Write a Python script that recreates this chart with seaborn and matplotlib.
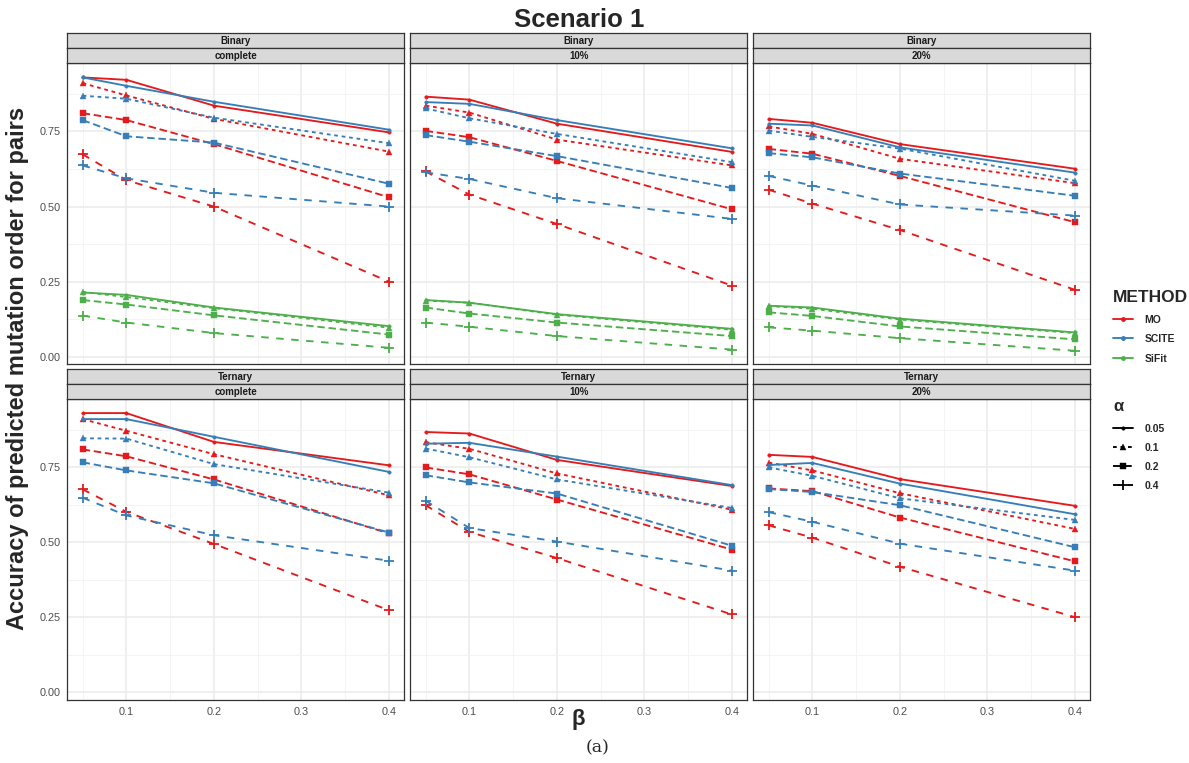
import matplotlib
matplotlib.use("Agg")
import matplotlib.pyplot as plt
from matplotlib.lines import Line2D
import pandas as pd
import seaborn as sns

sns.set_style("white")
plt.rcParams["font.family"] = ["Liberation Sans", "DejaVu Sans"]

# ---- data -------------------------------------------------------------
beta = [0.05, 0.1, 0.2, 0.4]
alphas = ["0.05", "0.1", "0.2", "0.4"]
methods = ["MO", "SCITE", "SiFit"]
encodings = ["Binary", "Ternary"]
missing_levels = ["complete", "10%", "20%"]

# each list holds one row per alpha (0.05, 0.1, 0.2, 0.4), values over beta
binary_complete_mo = [[0.930, 0.922, 0.836, 0.747],
                      [0.911, 0.870, 0.792, 0.683],
                      [0.811, 0.788, 0.708, 0.531],
                      [0.674, 0.588, 0.500, 0.250]]
binary_complete_scite = [[0.930, 0.902, 0.849, 0.756],
                         [0.869, 0.859, 0.796, 0.711],
                         [0.788, 0.734, 0.713, 0.576],
                         [0.637, 0.594, 0.546, 0.500]]
binary_complete_sifit = [[0.214, 0.206, 0.164, 0.102],
                         [0.216, 0.199, 0.162, 0.097],
                         [0.189, 0.174, 0.138, 0.074],
                         [0.137, 0.114, 0.079, 0.030]]

binary_10_mo = [[0.866, 0.856, 0.776, 0.682],
                [0.836, 0.813, 0.723, 0.637],
                [0.752, 0.731, 0.652, 0.491],
                [0.617, 0.540, 0.442, 0.237]]
binary_10_scite = [[0.848, 0.842, 0.788, 0.694],
                   [0.827, 0.794, 0.742, 0.648],
                   [0.738, 0.716, 0.668, 0.562],
                   [0.614, 0.592, 0.528, 0.459]]
binary_10_sifit = [[0.189, 0.180, 0.142, 0.093],
                   [0.187, 0.180, 0.140, 0.090],
                   [0.164, 0.144, 0.114, 0.069],
                   [0.114, 0.100, 0.069, 0.024]]

binary_20_mo = [[0.792, 0.779, 0.708, 0.626],
                [0.767, 0.742, 0.659, 0.578],
                [0.692, 0.676, 0.602, 0.448],
                [0.556, 0.510, 0.422, 0.223]]
binary_20_scite = [[0.776, 0.770, 0.697, 0.613],
                   [0.753, 0.732, 0.693, 0.586],
                   [0.678, 0.664, 0.610, 0.536],
                   [0.602, 0.570, 0.507, 0.470]]
binary_20_sifit = [[0.170, 0.164, 0.127, 0.081],
                   [0.169, 0.160, 0.124, 0.079],
                   [0.148, 0.136, 0.101, 0.058],
                   [0.098, 0.087, 0.062, 0.020]]

ternary_complete_mo = [[0.931, 0.931, 0.835, 0.757],
                       [0.911, 0.872, 0.794, 0.657],
                       [0.810, 0.787, 0.710, 0.530],
                       [0.677, 0.602, 0.495, 0.274]]
ternary_complete_scite = [[0.911, 0.911, 0.852, 0.735],
                          [0.847, 0.846, 0.761, 0.666],
                          [0.767, 0.740, 0.697, 0.533],
                          [0.649, 0.590, 0.524, 0.439]]

ternary_10_mo = [[0.868, 0.863, 0.775, 0.688],
                 [0.834, 0.812, 0.730, 0.609],
                 [0.750, 0.727, 0.643, 0.476],
                 [0.624, 0.535, 0.448, 0.260]]
ternary_10_scite = [[0.829, 0.832, 0.786, 0.691],
                    [0.813, 0.784, 0.710, 0.615],
                    [0.724, 0.700, 0.663, 0.489],
                    [0.639, 0.548, 0.503, 0.406]]

ternary_20_mo = [[0.792, 0.785, 0.711, 0.622],
                 [0.766, 0.740, 0.664, 0.545],
                 [0.680, 0.671, 0.583, 0.437],
                 [0.557, 0.516, 0.419, 0.251]]
ternary_20_scite = [[0.758, 0.765, 0.696, 0.594],
                    [0.750, 0.722, 0.647, 0.575],
                    [0.678, 0.668, 0.624, 0.484],
                    [0.601, 0.569, 0.496, 0.406]]

series = {
    ("Binary", "complete", "MO"): binary_complete_mo,
    ("Binary", "complete", "SCITE"): binary_complete_scite,
    ("Binary", "complete", "SiFit"): binary_complete_sifit,
    ("Binary", "10%", "MO"): binary_10_mo,
    ("Binary", "10%", "SCITE"): binary_10_scite,
    ("Binary", "10%", "SiFit"): binary_10_sifit,
    ("Binary", "20%", "MO"): binary_20_mo,
    ("Binary", "20%", "SCITE"): binary_20_scite,
    ("Binary", "20%", "SiFit"): binary_20_sifit,
    ("Ternary", "complete", "MO"): ternary_complete_mo,
    ("Ternary", "complete", "SCITE"): ternary_complete_scite,
    ("Ternary", "10%", "MO"): ternary_10_mo,
    ("Ternary", "10%", "SCITE"): ternary_10_scite,
    ("Ternary", "20%", "MO"): ternary_20_mo,
    ("Ternary", "20%", "SCITE"): ternary_20_scite,
}

rows = []
for (enc, miss, meth), table in series.items():
    for a, vals in zip(alphas, table):
        for b, v in zip(beta, vals):
            rows.append(dict(encoding=enc, missing=miss, METHOD=meth,
                             alpha=a, beta=b, accuracy=v))
df = pd.DataFrame(rows)

# ---- styling ----------------------------------------------------------
palette = {"MO": "#E41A1C", "SCITE": "#377EB8", "SiFit": "#4DAF4A"}
marker_map = {"0.05": "o", "0.1": "^", "0.2": "s", "0.4": "P"}
dash_map = {"0.05": "", "0.1": (2, 2), "0.2": (4, 2), "0.4": (4, 4)}
marker_size = {"o": 2.5, "^": 4.8, "s": 4.4, "+": 6.5}

W, H = 1189, 763
fig = plt.figure(figsize=(W / 100, H / 100), dpi=100)

col_left = [67.3, 410.3, 753.3]
col_width = 337.0
row_top = [63.3, 399.3]
row_bottom = [364.3, 700.0]
strip_h = 15.0
border = "#333333"


def fx(px):
    return px / W


def fy(py):
    return 1 - py / H


for r, enc in enumerate(encodings):
    for c, miss in enumerate(missing_levels):
        x0 = col_left[c]
        ax = fig.add_axes([fx(x0), fy(row_bottom[r]), col_width / W,
                           (row_bottom[r] - row_top[r]) / H])
        sub = df[(df.encoding == enc) & (df.missing == miss)]
        sns.lineplot(data=sub, x="beta", y="accuracy", hue="METHOD",
                     style="alpha", hue_order=methods, style_order=alphas,
                     palette=palette, markers=marker_map, dashes=dash_map,
                     errorbar=None, legend=False, linewidth=1.35, ax=ax,
                     zorder=3)
        for ln in ax.lines:
            col = ln.get_color()
            if ln.get_marker() == "P":
                ln.set_marker("+")
                ln.set_markeredgewidth(1.3)
            else:
                ln.set_markeredgewidth(0.3)
            ln.set_markeredgecolor(col)
            ln.set_markerfacecolor(col)
            ln.set_markersize(marker_size.get(ln.get_marker(), 5))

        ax.set_xlim(0.0325, 0.4175)
        ax.set_ylim(-0.025, 0.977)
        ax.set_xticks([0.1, 0.2, 0.3, 0.4])
        ax.set_xticks([0.05, 0.15, 0.25, 0.35], minor=True)
        ax.set_yticks([0.0, 0.25, 0.5, 0.75])
        ax.set_yticks([0.125, 0.375, 0.625, 0.875], minor=True)
        ax.set_xticklabels(["0.1", "0.2", "0.3", "0.4"])
        ax.set_yticklabels(["0.00", "0.25", "0.50", "0.75"])
        ax.grid(which="major", color="#EBEBEB", linewidth=1.1, zorder=0)
        ax.grid(which="minor", color="#F2F2F2", linewidth=0.6, zorder=0)
        ax.set_axisbelow(True)
        ax.tick_params(which="minor", length=0)
        ax.tick_params(which="major", length=2.7, width=0.6, color=border,
                       labelsize=7.8, labelcolor="#4D4D4D", pad=2)
        if c > 0:
            ax.tick_params(left=False, labelleft=False)
        if r == 0:
            ax.tick_params(bottom=False, labelbottom=False)
        ax.set_xlabel("")
        ax.set_ylabel("")
        for sp in ax.spines.values():
            sp.set_color(border)
            sp.set_linewidth(0.9)

        # two-level facet strips
        for k, label in enumerate([enc, miss]):
            top = row_top[r] - strip_h * (2 - k)
            sax = fig.add_axes([fx(x0), fy(top + strip_h), col_width / W,
                                strip_h / H])
            sax.set_facecolor("#D9D9D9")
            sax.set_xticks([])
            sax.set_yticks([])
            for sp in sax.spines.values():
                sp.set_color(border)
                sp.set_linewidth(0.9)
            sax.text(0.5, 0.5, label, ha="center", va="center",
                     fontsize=7, fontweight="bold", color="#1A1A1A",
                     transform=sax.transAxes)

# ---- titles -----------------------------------------------------------
fig.text(fx(579), fy(20), "Scenario 1", ha="center", va="center",
         fontsize=18.5, fontweight="bold")
fig.text(fx(578), fy(719), "β", ha="center", va="center",
         fontsize=16, fontweight="bold")
fig.text(fx(18), fy(368), "Accuracy of predicted mutation order for pairs",
         ha="center", va="center", rotation=90, fontsize=17,
         fontweight="bold")
fig.text(fx(598), fy(748), "(a)", ha="center", va="center", fontsize=12.5,
         family=["DejaVu Serif"])

# ---- legends ----------------------------------------------------------
meth_handles = [Line2D([], [], color=palette[m], linewidth=1.35, marker="o",
                       markersize=2.5) for m in methods]
leg1 = fig.legend(meth_handles, methods, title="METHOD", loc="upper left",
                  bbox_to_anchor=(fx(1104), fy(281)), frameon=False,
                  handlelength=1.9, handletextpad=1.1, labelspacing=0.9,
                  prop=dict(size=7.5, weight="bold"),
                  title_fontproperties=dict(size=12.5, weight="bold"))
leg1._legend_box.align = "left"

alpha_handles = []
for a in alphas:
    m = marker_map[a]
    m = "+" if m == "P" else m
    ls = "-" if dash_map[a] == "" else (0, dash_map[a])
    alpha_handles.append(Line2D([], [], color="black", linewidth=1.35,
                                linestyle=ls, marker=m,
                                markersize=marker_size[m],
                                markeredgewidth=1.3 if m == "+" else 0.3))
leg2 = fig.legend(alpha_handles, alphas, title="α", loc="upper left",
                  bbox_to_anchor=(fx(1104), fy(390)), frameon=False,
                  handlelength=1.9, handletextpad=1.1, labelspacing=0.88,
                  prop=dict(size=7.5, weight="bold"),
                  title_fontproperties=dict(size=12, weight="bold"))
leg2._legend_box.align = "left"

fig.savefig("out.png", dpi=100)
